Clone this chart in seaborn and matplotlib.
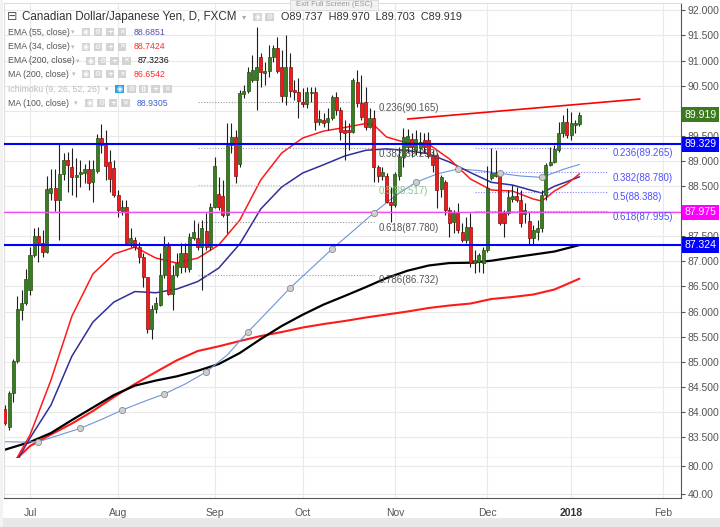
import seaborn as sns
import matplotlib.pyplot as plt
from matplotlib.patches import Rectangle
from matplotlib.transforms import blended_transform_factory
import pandas as pd
import numpy as np

# CAD/JPY daily candles, 23 Jun 2017 .. 4 Jan 2018 (FXCM, no bars on 25 Dec / 1 Jan)
opens = [84.052, 83.693, 84.382, 85.020, 86.030, 86.175, 86.428, 87.125, 87.510, 87.370,
         87.191, 88.354, 88.454, 88.221, 88.739, 89.018, 88.872, 88.673, 88.739, 88.765,
         88.839, 88.586, 88.805, 89.450, 89.317, 88.978, 88.864, 88.321, 88.008, 88.076,
         87.370, 87.424, 87.291, 87.080, 86.681, 85.645, 86.044, 86.129, 86.727, 87.305,
         86.349, 86.727, 86.880, 87.171, 86.840, 87.458, 87.458, 87.291, 87.609, 87.291,
         88.088, 88.341, 88.300, 87.922, 89.317, 89.482, 88.938, 90.333, 90.398, 90.612,
         90.612, 91.064, 90.757, 90.797, 91.064, 91.243, 90.876, 90.293, 90.876, 90.412,
         90.378, 90.179, 90.133, 90.346, 90.378, 89.781, 89.815, 89.781, 89.848, 90.267,
         90.014, 89.615, 89.615, 89.582, 90.578, 90.147, 90.179, 89.681, 89.848, 88.885,
         88.699, 88.699, 88.187, 88.121, 88.699, 89.083, 89.283, 89.430, 89.217, 89.251,
         89.416, 89.416, 89.097, 89.117, 88.434, 88.585, 88.022, 87.789, 87.956, 87.589,
         87.424, 87.689, 86.960, 86.992, 86.960, 87.225, 88.659, 88.699, 88.785, 87.956,
         87.956, 88.235, 88.301, 88.221, 87.942, 87.809, 87.458, 87.584, 87.663, 88.321,
         88.918, 88.984, 89.217, 89.550, 89.781, 89.516, 89.715, 89.737]
highs = [84.137, 84.416, 85.048, 86.309, 86.428, 86.840, 87.291, 87.657, 87.689, 87.623,
         88.699, 88.833, 88.833, 89.350, 89.151, 89.183, 89.251, 89.052, 89.018, 88.938,
         89.018, 89.018, 89.536, 89.735, 89.615, 89.217, 89.018, 88.420, 88.221, 88.221,
         87.657, 87.490, 87.390, 87.159, 86.693, 86.129, 86.295, 87.159, 87.504, 87.390,
         86.926, 87.159, 87.358, 87.358, 87.558, 87.823, 87.757, 87.823, 87.956, 88.155,
         89.083, 88.685, 88.619, 89.749, 89.749, 89.615, 90.412, 90.512, 90.876, 91.109,
         91.673, 91.143, 90.976, 91.309, 91.309, 91.474, 91.209, 91.508, 91.143, 90.612,
         90.645, 90.446, 90.478, 90.478, 90.478, 90.014, 89.948, 90.048, 90.313, 90.378,
         90.080, 89.815, 89.749, 90.645, 90.811, 90.711, 90.478, 90.054, 90.014, 88.918,
         88.885, 88.753, 88.486, 88.785, 89.283, 89.649, 89.629, 89.550, 89.615, 89.582,
         89.550, 89.582, 89.217, 89.151, 88.719, 88.619, 88.088, 88.022, 88.155, 87.757,
         87.888, 87.956, 87.225, 87.159, 87.291, 88.900, 89.251, 89.217, 88.819, 88.022,
         88.420, 88.520, 88.486, 88.420, 88.155, 87.988, 87.723, 87.823, 88.420, 88.952,
         89.283, 89.317, 89.781, 89.914, 90.048, 89.980, 89.815, 89.970]
lows = [83.739, 83.639, 84.203, 84.980, 85.830, 86.129, 86.329, 87.092, 86.992, 87.092,
        87.159, 88.221, 88.008, 87.424, 88.619, 88.386, 88.321, 88.287, 88.486, 88.554,
        88.420, 88.187, 88.765, 89.151, 88.619, 88.380, 88.287, 87.888, 87.922, 87.358,
        87.291, 87.225, 86.960, 86.494, 85.566, 85.446, 85.964, 86.109, 86.661, 86.329,
        86.030, 86.693, 86.761, 86.793, 86.793, 87.424, 87.225, 86.428, 87.225, 87.225,
        88.056, 88.022, 87.888, 87.558, 89.151, 88.554, 88.885, 90.247, 90.346, 90.578,
        90.014, 90.478, 90.512, 90.677, 90.976, 90.745, 90.179, 90.113, 90.279, 90.213,
        89.848, 90.080, 90.048, 90.179, 89.615, 89.715, 89.681, 89.615, 89.815, 89.914,
        89.416, 89.018, 89.217, 89.550, 90.080, 89.815, 89.615, 89.655, 88.585, 88.585,
        88.619, 88.155, 87.789, 88.088, 88.619, 88.885, 89.151, 89.083, 89.117, 89.117,
        89.151, 89.052, 88.785, 88.056, 88.287, 87.922, 87.490, 87.558, 87.558, 87.390,
        87.358, 86.892, 86.761, 86.793, 86.761, 87.191, 88.619, 88.673, 87.723, 87.490,
        87.922, 88.187, 88.187, 87.689, 87.757, 87.325, 87.325, 87.424, 87.584, 88.221,
        88.900, 88.952, 89.183, 89.482, 89.450, 89.416, 89.550, 89.703]
closes = [83.785, 84.382, 85.020, 86.044, 86.175, 86.641, 87.125, 87.510, 87.370, 87.191,
          88.434, 88.454, 88.221, 88.739, 89.018, 88.918, 88.685, 88.719, 88.785, 88.839,
          88.566, 88.833, 89.450, 89.317, 88.898, 88.633, 88.321, 88.022, 88.076, 87.370,
          87.458, 87.291, 87.080, 86.681, 85.645, 86.044, 86.163, 86.727, 87.305, 86.349,
          86.727, 86.960, 87.171, 86.892, 87.490, 87.590, 87.291, 87.657, 87.291, 88.088,
          88.898, 88.088, 87.922, 89.317, 89.482, 88.699, 90.358, 90.398, 90.777, 90.811,
          90.864, 90.777, 90.797, 91.064, 91.243, 90.797, 90.293, 90.876, 90.398, 90.366,
          90.193, 90.133, 90.378, 90.378, 89.781, 89.829, 89.749, 89.848, 90.267, 90.014,
          89.582, 89.562, 89.582, 90.612, 90.147, 89.880, 89.681, 89.848, 88.885, 88.699,
          88.785, 88.187, 88.121, 88.739, 89.083, 89.482, 89.496, 89.283, 89.430, 89.382,
          89.283, 89.097, 88.918, 88.420, 88.685, 88.022, 87.769, 87.956, 87.623, 87.424,
          87.689, 86.960, 87.026, 87.125, 87.225, 88.460, 88.765, 88.753, 87.757, 87.769,
          88.275, 88.301, 88.221, 87.769, 88.022, 87.458, 87.623, 87.663, 88.321, 88.918,
          88.984, 89.231, 89.550, 89.781, 89.516, 89.749, 89.749, 89.919]

# indicator readings (bar number, value)
ema34_bar = [2, 6, 11, 16, 21, 26, 31, 36, 41, 46, 51, 56, 61, 66, 71, 76, 81, 86, 88, 91,
             96, 101, 106, 111, 116, 121, 126, 128, 129, 131, 134, 137]
ema34 = [82.95, 83.54, 84.635, 85.91, 86.75, 87.145, 87.285, 87.065, 86.965, 87.065, 87.325,
         87.82, 88.62, 89.157, 89.456, 89.595, 89.665, 89.745, 89.715, 89.476, 89.356, 89.336,
         89.038, 88.639, 88.42, 88.40, 88.241, 88.201, 88.26, 88.40, 88.54, 88.742]
ema55_bar = [2, 6, 11, 16, 21, 26, 31, 36, 41, 46, 51, 56, 61, 66, 71, 76, 81, 86, 91, 96,
             101, 106, 111, 116, 121, 126, 128, 131, 134, 137]
ema55 = [82.9, 83.48, 84.137, 85.113, 85.79, 86.189, 86.398, 86.374, 86.448, 86.598, 86.866,
         87.345, 88.042, 88.48, 88.759, 88.924, 89.097, 89.211, 89.241, 89.207, 89.141, 88.978,
         88.769, 88.573, 88.52, 88.404, 88.36, 88.494, 88.586, 88.685]
ema200_bar = [0, 6, 11, 16, 21, 26, 31, 36, 41, 46, 51, 56, 61, 66, 71, 76, 81, 86, 91, 96,
              101, 106, 111, 116, 121, 126, 131, 137]
ema200 = [83.247, 83.40, 83.58, 83.839, 84.088, 84.336, 84.524, 84.625, 84.709, 84.82, 84.954,
          85.173, 85.452, 85.711, 85.936, 86.139, 86.309, 86.484, 86.667, 86.813, 86.916,
          86.966, 86.972, 87.012, 87.076, 87.135, 87.195, 87.324]
ma200_bar = [2, 6, 11, 16, 21, 26, 31, 36, 41, 46, 51, 56, 61, 66, 71, 76, 81, 86, 91, 96,
             101, 106, 111, 116, 121, 126, 131, 137]
ma200 = [83.0, 83.321, 83.55, 83.769, 84.018, 84.296, 84.556, 84.795, 85.028, 85.213, 85.307,
         85.412, 85.512, 85.591, 85.681, 85.751, 85.811, 85.88, 85.94, 86.0, 86.07, 86.12,
         86.159, 86.249, 86.289, 86.339, 86.438, 86.654]
ma100_bar = [0, 4, 8, 13, 18, 23, 28, 33, 38, 43, 48, 53, 58, 63, 68, 73, 78, 83, 88, 93,
             98, 103, 108, 113, 118, 123, 128, 133, 137]
ma100 = [83.406, 83.40, 83.406, 83.54, 83.673, 83.848, 84.038, 84.203, 84.356, 84.556, 84.795,
         85.133, 85.597, 86.03, 86.468, 86.856, 87.245, 87.603, 87.968, 88.301, 88.574, 88.739,
         88.839, 88.809, 88.753, 88.699, 88.673, 88.829, 88.93]

# drawings
trend_bar = [96, 151.4]
trend_val = [89.835, 90.233]
fib1_ratio = ['0.236', '0.382', '0.5', '0.618', '0.786']
fib1_level = [90.165, 89.253, 88.517, 87.780, 86.732]
fib2_ratio = ['0.236', '0.382', '0.5', '0.618']
fib2_level = [89.265, 88.780, 88.388, 87.995]
last_price = 89.919
support_1, support_2, pivot = 89.329, 87.324, 87.975
month_labels = ['Jul', 'Aug', 'Sep', 'Oct', 'Nov', 'Dec', '2018', 'Feb']

W, H = 720, 527


def fx(x):
    return x / W


def fy(y):
    return 1 - y / H


sns.set_style('white')
plt.rcParams['font.family'] = ['Liberation Sans', 'DejaVu Sans']

fig = plt.figure(figsize=(7.2, 5.27), dpi=100)
fig.patch.set_facecolor('white')
ax = fig.add_axes([fx(4), fy(458), 677 / W, 455 / H])
axv = fig.add_axes([fx(4), fy(498), 677 / W, 40 / H], sharex=ax)

# trading-day calendar for the x axis
days = pd.bdate_range('2017-06-23', '2018-02-28')
days = days[~days.isin(pd.to_datetime(['2017-12-25', '2018-01-01']))]
cal = pd.Series(np.arange(len(days)), index=days)
month_ticks = cal.groupby([days.year, days.month]).min().values[1:]

# moving averages
sns.lineplot(x=ma200_bar, y=ma200, ax=ax, color='#ff1a1a', linewidth=1.5, zorder=2)
sns.lineplot(x=ema200_bar, y=ema200, ax=ax, color='#000000', linewidth=1.6, zorder=2)
sns.lineplot(x=ma100_bar, y=ma100, ax=ax, color='#6f93d8', linewidth=0.8, zorder=2)
sns.lineplot(x=ema55_bar, y=ema55, ax=ax, color='#2f2f9c', linewidth=1.1, zorder=2)
sns.lineplot(x=ema34_bar, y=ema34, ax=ax, color='#ff1a1a', linewidth=1.1, zorder=2)
mk = [(b, v) for b, v in zip(ma100_bar, ma100) if (b - 8) % 10 == 0]
ax.scatter([m[0] for m in mk], [m[1] for m in mk], s=20, fc='#cfcfcf', ec='#8c8c8c',
           lw=0.6, zorder=6)

# candles
df = pd.DataFrame({'open': opens, 'high': highs, 'low': lows, 'close': closes})
df['pos'] = np.arange(len(df))
up = (df['close'] >= df['open']).values
ax.vlines(df['pos'], df['low'], df['high'], color='#1e1e1e', lw=0.8, zorder=3)
ax.bar(df['pos'], (df['close'] - df['open']).abs().clip(lower=0.015),
       bottom=df[['open', 'close']].min(axis=1), width=0.72,
       color=np.where(up, '#3a7d21', '#f21b1b'),
       edgecolor=np.where(up, '#244f14', '#8a0c0c'), linewidth=0.5, zorder=4)

# horizontal levels and trend line
ax.axhline(support_1, color='#0000ff', lw=1.5, zorder=5)
ax.axhline(support_2, color='#0000ff', lw=1.5, zorder=5)
ax.axhline(pivot, color='#f050f0', lw=1.0, zorder=5)
ax.plot(trend_bar, trend_val, color='#ff0000', lw=1.2, zorder=5)

# fibonacci drawings
for r, lv in zip(fib1_ratio, fib1_level):
    c_line = '#9fd09f' if r == '0.5' else '#9a9a9a'
    c_text = '#8cc48c' if r == '0.5' else '#555555'
    ax.hlines(lv, 46, 88.3, colors=c_line, linestyles=(0, (1, 1.5)), lw=0.8, zorder=2)
    ax.annotate(f'{r}({lv:.3f})', (89, lv), xytext=(0, -4), textcoords='offset points',
                ha='left', va='center', fontsize=7, color=c_text, zorder=7)
for r, lv in zip(fib2_ratio, fib2_level):
    ax.hlines(lv, 112.1, 143.6, colors='#8080ff', linestyles=(0, (1, 1.5)), lw=0.8, zorder=2)
    ax.annotate(f'{r}({lv:.3f})', (144.8, lv), xytext=(0, -4), textcoords='offset points',
                ha='left', va='center', fontsize=7, color='#5050ff', zorder=7)

# axes styling; the 90.000 and 88.000 labels sit fully under the price tags
yt = np.arange(83.5, 92.01, 0.5)
ax.set_xlim(-0.2, 161.2)
ax.set_ylim(83.082, 92.146)
ax.set_yticks(yt)
ax.set_yticklabels(['' if round(v, 1) in (90.0, 88.0) else f'{v:.3f}' for v in yt])
ax.set_xticks(month_ticks)
ax.grid(True, color='#e9e9e9', lw=0.8)
ax.set_axisbelow(True)
ax.yaxis.tick_right()
ax.tick_params(axis='y', labelsize=7.5, colors='#555555', length=3, pad=2)
ax.tick_params(axis='x', bottom=False, labelbottom=False)
for s in ['top', 'left']:
    ax.spines[s].set_color('#dddddd')
ax.spines['right'].set_color('#555555')
ax.spines['bottom'].set_color('#555555')

axv.set_ylim(34.3, 91.4)
axv.set_yticks([40, 80])
axv.set_yticklabels(['40.00', '80.00'])
axv.yaxis.tick_right()
axv.grid(True, color='#e9e9e9', lw=0.8)
axv.set_xticks(month_ticks)
axv.set_xticklabels(month_labels)
axv.tick_params(axis='y', labelsize=7.5, colors='#555555', length=3, pad=2)
axv.tick_params(axis='x', labelsize=7.5, colors='#555555', length=3, pad=4)
axv.get_xticklabels()[6].set_fontweight('bold')
axv.get_xticklabels()[6].set_color('#333333')
axv.spines['top'].set_visible(False)
axv.spines['left'].set_color('#dddddd')
axv.spines['right'].set_color('#555555')
axv.spines['bottom'].set_color('#555555')
axv.set_xlabel('')
axv.set_ylabel('')
ax.set_xlabel('')
ax.set_ylabel('')

# price tags on the right scale
tr = blended_transform_factory(ax.transAxes, ax.transData)
for val, fc in [(last_price, '#3b7a1f'), (support_1, '#0000ff'), (pivot, '#ff00ff'),
                (support_2, '#0000ff')]:
    ax.text(1.005, val, f'{val:.3f}', transform=tr, ha='left', va='center', color='white',
            fontsize=7.5, bbox=dict(boxstyle='square,pad=0.25', fc=fc, ec='none'),
            clip_on=False, zorder=10)

# header and indicator legend


def icon(x, y, sym, fc='#d3d3d3'):
    fig.add_artist(Rectangle((fx(x), fy(y + 4)), 8.5 / W, 8 / H, transform=fig.transFigure,
                             fc=fc, ec='none', zorder=20))
    fig.text(fx(x + 4.25), fy(y), sym, color='white', fontsize=5, ha='center', va='center',
             fontweight='bold', zorder=21, family=['DejaVu Sans'])


fig.text(fx(7), fy(17), '\u229f', fontsize=9, color='#555555', va='center',
         family=['DejaVu Sans'])
fig.text(fx(22), fy(17), 'Canadian Dollar/Japanese Yen, D, FXCM', fontsize=8.4,
         color='#333333', va='center')
fig.text(fx(242), fy(17), '\u25be', fontsize=6, color='#aaaaaa', va='center',
         family=['DejaVu Sans'])
icon(253, 17, '\u25c9')
icon(265, 17, '\u2699')
fig.text(fx(281), fy(17), 'O89.737  H89.970  L89.703  C89.919', fontsize=7.8,
         color='#333333', va='center')

rows = [('EMA (55, close)', 71, 81.7, 133.3, '88.6851', '#5a4fb0', '#555555'),
        ('EMA (34, close)', 71, 81.7, 133.3, '88.7424', '#ff2a2a', '#555555'),
        ('EMA (200, close)', 76, 86, 137.7, '87.3236', '#111111', '#555555'),
        ('MA (200, close)', 72, 81.7, 133.3, '86.6542', '#ff2a2a', '#555555'),
        ('Ichimoku (9, 26, 52, 26)', 105, 115, None, '', '#bbbbbb', '#bbbbbb'),
        ('MA (100, close)', 74, 85, 136.7, '88.9305', '#3e5fcf', '#555555')]
row_y = [32.3, 46.7, 60.7, 74.3, 89, 103.3]
for (name, dx, ix, vx, val, vc, nc), y in zip(rows, row_y):
    fig.text(fx(8), fy(y), name, fontsize=6.3, color=nc, va='center')
    fig.text(fx(dx), fy(y), '\u25be', fontsize=5, color='#bbbbbb', va='center',
             family=['DejaVu Sans'])
    if name.startswith('Ichimoku'):
        icon(ix, y, '\u25c9', fc='#2fa3e6')
        for k, sym in enumerate(['\u2699', '()', '+', '\u2715']):
            icon(ix + 12 * (k + 1), y, sym)
    else:
        for k, sym in enumerate(['\u25c9', '\u2699', '+', '\u2715']):
            icon(ix + 12 * k, y, sym)
        fig.text(fx(vx), fy(y), val, fontsize=6.3, color=vc, va='center')

# full screen hint and frame strips
fig.add_artist(Rectangle((fx(290), fy(10)), 88 / W, 10 / H, transform=fig.transFigure,
                         fc='#f2f2f2', ec='#d8d8d8', lw=0.6, zorder=20))
fig.text(fx(334), fy(5), 'Exit Full Screen (ESC)', fontsize=5.5, color='#999999',
         ha='center', va='center', zorder=21)
fig.add_artist(Rectangle((0, 0), 1, 9 / H, transform=fig.transFigure, fc='#e6e8ea',
                         ec='none', zorder=0))
fig.add_artist(Rectangle((0, 0), 3 / W, 1, transform=fig.transFigure, fc='#f3f3f3',
                         ec='none', zorder=0))

plt.savefig('out.png', dpi=100)
